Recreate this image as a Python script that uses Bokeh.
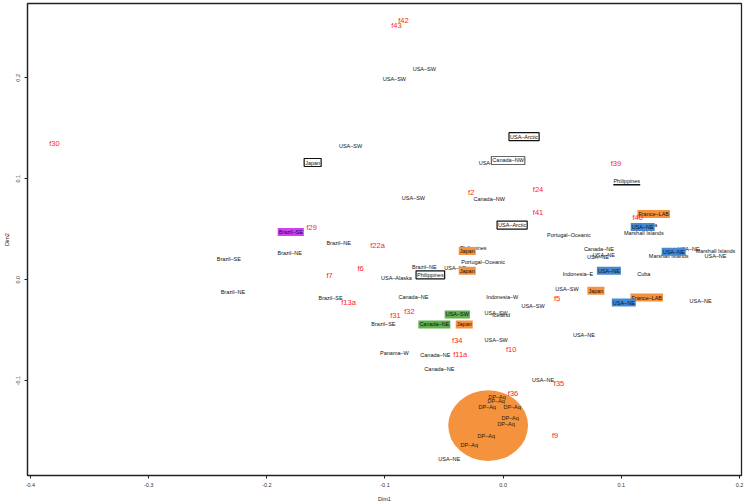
from bokeh.plotting import figure
from bokeh.models import Range1d, FixedTicker, NumeralTickFormatter
from bokeh.core.properties import value
from bokeh.embed import file_html
from bokeh.resources import INLINE

# ---- data (Dim1, Dim2 coordinates) ----
f_labels = ["f42", "f43", "f30", "f2", "f24", "f39", "f41", "f40", "f29", "f22a", "f6", "f7",
            "f13a", "f32", "f31", "f5", "f34", "f11a", "f10", "f35", "f36", "f9"]
f_x = [-0.0844, -0.0903, -0.3797, -0.0270, 0.0295, 0.0954, 0.0295, 0.1139, -0.1620, -0.1063,
       -0.1207, -0.1468, -0.1308, -0.0793, -0.0911, 0.0456, -0.0388, -0.0363, 0.0068, 0.0473,
       0.0084, 0.0439]
f_y = [0.2569, 0.2520, 0.1348, 0.0866, 0.0896, 0.1152, 0.0669, 0.0620, 0.0522, 0.0335,
       0.0108, 0.0039, -0.0226, -0.0315, -0.0354, -0.0187, -0.0600, -0.0738, -0.0689, -0.1024,
       -0.1122, -0.1545]

site_labels = ["USA–SW", "USA–SW", "USA–SW", "USA–Alaska", "USA–SW", "Canada–NW",
               "Portugal–Oceanic", "Cuba", "Marshall Islands", "Brazil–NE", "Brazil–NE",
               "Brazil–SE", "Brazil–NE", "Philippines", "Portugal–Oceanic", "Brazil–NE",
               "USA–NE", "USA–Alaska", "Canada–NE", "Brazil–SE", "Indonesia–W", "USA–SW",
               "USA–SW", "Iceland", "Brazil–SE", "USA–SW", "Panama–W", "Canada–NE",
               "Canada–NE", "USA–NE", "USA–NE", "Canada–NE", "USA–NE", "USA–NE",
               "Indonesia–E", "Cuba", "USA–SW", "USA–NE", "USA–NE", "USA–NE",
               "Marshall Islands", "Marshall Islands", "USA–NE"]
site_x = [-0.0667, -0.0920, -0.1291, -0.0076, -0.0759, -0.0118, 0.0557, 0.1249, 0.1190,
          -0.1392, -0.1806, -0.2321, -0.2287, -0.0253, -0.0169, -0.0667, -0.0405, -0.0903,
          -0.0759, -0.1460, -0.0008, 0.0253, -0.0059, -0.0017, -0.1013, -0.0059, -0.0920,
          -0.0574, -0.0540, -0.0456, 0.0338, 0.0810, 0.0852, 0.0802, 0.0633, 0.1190, 0.0540,
          0.1671, 0.0684, 0.1570, 0.1401, 0.1797, 0.1797]
site_y = [0.2087, 0.1988, 0.1329, 0.1152, 0.0807, 0.0797, 0.0443, 0.0541, 0.0463, 0.0364,
          0.0266, 0.0207, -0.0118, 0.0315, 0.0177, 0.0128, 0.0118, 0.0020, -0.0167, -0.0177,
          -0.0167, -0.0256, -0.0325, -0.0354, -0.0443, -0.0600, -0.0728, -0.0748, -0.0886,
          -0.1772, -0.0994, 0.0305, 0.0246, 0.0226, 0.0059, 0.0059, -0.0089, -0.0207, -0.0551,
          0.0305, 0.0236, 0.0285, 0.0236]

dp_labels = ["DP–Aq"] * 8
dp_x = [-0.0051, -0.0059, -0.0135, 0.0076, 0.0059, 0.0025, -0.0143, -0.0287]
dp_y = [-0.1161, -0.1201, -0.1260, -0.1260, -0.1368, -0.1427, -0.1545, -0.1634]

boxed_labels = ["Japan", "USA–Arctic", "USA–Arctic", "Philippines"]
boxed_x = [-0.1612, 0.0177, 0.0076, -0.0616]
boxed_y = [0.1161, 0.1417, 0.0541, 0.0049]

grey_boxed_labels = ["Canada–NW"]
grey_boxed_x = [0.0042]
grey_boxed_y = [0.1181]

underlined_labels = ["Philippines"]
underlined_x = [0.1046]
underlined_y = [0.0974]

orange_labels = ["France–LAB", "Japan", "Japan", "Japan", "Japan", "France–LAB"]
orange_x = [0.1274, -0.0304, -0.0304, -0.0329, 0.0785, 0.1215]
orange_y = [0.0650, 0.0285, 0.0089, -0.0443, -0.0108, -0.0177]

blue_labels = ["USA–NE", "USA–NE", "USA–NE", "USA–NE"]
blue_x = [0.1181, 0.0895, 0.1021, 0.1443]
blue_y = [0.0522, 0.0089, -0.0226, 0.0276]

green_labels = ["USA–SW", "Canada–NE"]
green_x = [-0.0388, -0.0582]
green_y = [-0.0344, -0.0443]

purple_labels = ["Brazil–SE"]
purple_x = [-0.1797]
purple_y = [0.0472]

cluster_x = [-0.0127]
cluster_y = [-0.1445]
cluster_w = [0.0675]
cluster_h = [0.0700]

x_ticks = [-0.4, -0.3, -0.2, -0.1, 0.0, 0.1, 0.2]
y_ticks = [-0.1, 0.0, 0.1, 0.2]

# ---- figure ----
FONT = value("Liberation Sans")
ORANGE = "#F5923E"
BLUE = "#4389D6"
GREEN = "#5DB14E"
PURPLE = "#CF40F5"

p = figure(width=745, height=504, output_backend="svg", toolbar_location=None,
           x_range=Range1d(-0.4025, 0.2017), y_range=Range1d(-0.1939, 0.2736),
           min_border_left=25, min_border_right=4, min_border_top=3, min_border_bottom=26)
p.grid.visible = False
p.background_fill_color = "white"
p.border_fill_color = "white"
p.outline_line_color = "#222222"
p.outline_line_width = 1.3
p.outline_line_alpha = 1.0

for ax in (p.xaxis[0], p.yaxis[0]):
    ax.axis_line_color = "#222222"
    ax.axis_line_width = 1.2
    ax.major_tick_line_color = "#222222"
    ax.major_tick_in = 0
    ax.major_tick_out = 3
    ax.minor_tick_line_color = None
    ax.major_label_text_font = "Liberation Sans"
    ax.major_label_text_font_size = "5.5px"
    ax.major_label_text_color = "#333333"
    ax.axis_label_text_font = "Liberation Sans"
    ax.axis_label_text_font_size = "5.5px"
    ax.axis_label_text_font_style = "normal"
    ax.axis_label_text_color = "#222222"
    ax.formatter = NumeralTickFormatter(format="0.0")

p.xaxis[0].ticker = FixedTicker(ticks=x_ticks)
p.yaxis[0].ticker = FixedTicker(ticks=y_ticks)
p.xaxis[0].axis_label = "Dim1"
p.yaxis[0].axis_label = "Dim2"
p.xaxis[0].major_label_standoff = 4
p.xaxis[0].axis_label_standoff = 6
p.yaxis[0].major_label_standoff = 4
p.yaxis[0].axis_label_standoff = 4
p.yaxis[0].major_label_orientation = "vertical"

# cluster ellipse
p.ellipse(x=cluster_x, y=cluster_y, width=cluster_w, height=cluster_h,
          fill_color=ORANGE, line_color=None)

common = dict(text_font=FONT, text_align="center", text_baseline="middle")

# plain site labels
p.text(x=site_x, y=site_y, text=site_labels, text_font_size="5.5px",
       text_color="#111111", **common)
p.text(x=dp_x, y=dp_y, text=dp_labels, text_font_size="5.5px",
       text_color="#2a1a0a", **common)

# boxed labels
p.text(x=boxed_x, y=boxed_y, text=boxed_labels, text_font_size="5.5px", text_color="#111111",
       background_fill_color="white", border_line_color="#111111", border_line_width=1.2,
       padding=1, **common)
p.text(x=grey_boxed_x, y=grey_boxed_y, text=grey_boxed_labels, text_font_size="5.5px",
       text_color="#111111", background_fill_color="white", border_line_color="#666666",
       border_line_width=1.2, padding=1, **common)

# underlined label
p.text(x=underlined_x, y=underlined_y, text=underlined_labels, text_font_size="5.5px",
       text_color="#111111", **common)
ul_x0 = [v - 0.0114 for v in underlined_x]
ul_x1 = [v + 0.0114 for v in underlined_x]
ul_y = [v - 0.0034 for v in underlined_y]
p.segment(x0=ul_x0, y0=ul_y, x1=ul_x1, y1=ul_y, line_color="#111111", line_width=1.5)

# coloured labels
for labs, xs, ys, col in [(orange_labels, orange_x, orange_y, ORANGE),
                          (blue_labels, blue_x, blue_y, BLUE),
                          (green_labels, green_x, green_y, GREEN),
                          (purple_labels, purple_x, purple_y, PURPLE)]:
    p.text(x=xs, y=ys, text=labs, text_font_size="5.5px", text_color="#111111",
           background_fill_color=col, padding=1, **common)

# red variable labels
p.text(x=f_x, y=f_y, text=f_labels, text_font_size="7.5px", text_color="#FF1A1A", **common)

open("out.html", "w").write(file_html(p, INLINE))
